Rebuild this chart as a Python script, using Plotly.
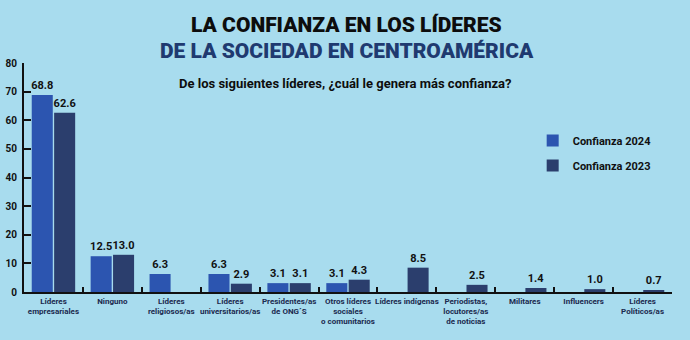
import plotly.graph_objects as go

categories = ["Líderes<br>empresariales", "Ninguno", "Líderes<br>religiosos/as",
              "Líderes<br>universitarios/as", "Presidentes/as<br>de ONG´S",
              "Otros líderes<br>sociales<br>o comunitarios", "Líderes indígenas",
              "Periodistas,<br>locutores/as<br>de noticias", "Militares", "Influencers",
              "Líderes<br>Políticos/as"]
v2024 = [68.8, 12.5, 6.3, 6.3, 3.1, 3.1, None, None, None, None, None]
v2023 = [62.6, 13.0, None, 2.9, 3.1, 4.3, 8.5, 2.5, 1.4, 1.0, 0.7]
series_names = ["Confianza 2024", "Confianza 2023"]
yticks = [0, 10, 20, 30, 40, 50, 60, 70, 80]

FONT = "Roboto, Liberation Sans, sans-serif"
BG = "#a8dcee"
C24 = "#2c55b0"
C23 = "#2b3e6d"


def f(size, color="#111111", weight="bold"):
    return dict(family=FONT, size=size, color=color, weight=weight)


fig = go.Figure()
for i, (name, vals, col) in enumerate([(series_names[0], v2024, C24),
                                        (series_names[1], v2023, C23)]):
    fig.add_trace(go.Bar(
        x=categories, y=vals, name=name, legendgroup=f"g{i}",
        marker=dict(color=col, line=dict(width=0)),
        texttemplate="%{y:.1f}", textposition="outside", cliponaxis=False,
        constraintext="none", textfont=f(11),
    ))

fig.update_layout(
    width=690, height=340,
    paper_bgcolor=BG, plot_bgcolor=BG,
    margin=dict(l=24, r=18, t=63, b=48, autoexpand=False),
    barmode="group", bargap=0.24, bargroupgap=0.06,
    showlegend=True,
    legend=dict(x=0.785, y=0.725, xanchor="left", yanchor="top",
                bgcolor="rgba(0,0,0,0)", traceorder="grouped", tracegroupgap=6,
                itemwidth=30, font=f(11)),
    xaxis=dict(type="category", showline=True, linecolor="#111111", linewidth=2,
               ticks="inside", tickson="boundaries", ticklen=5, tickwidth=1.5,
               tickcolor="#111111", showgrid=False, zeroline=False,
               tickangle=0, automargin=False,
               tickfont=f(8, "#1b2a4e")),
    yaxis=dict(range=[0, 80], tickvals=yticks, showline=True, linecolor="#111111",
               linewidth=2, ticks="inside", ticklen=7, tickwidth=1.5,
               tickcolor="#111111", showgrid=False, zeroline=False,
               automargin=False, ticklabelstandoff=3,
               tickfont=f(10)),
    annotations=[
        dict(text="LA CONFIANZA EN LOS LÍDERES", xref="paper", yref="paper",
             x=0.498, y=1.0, yshift=38, showarrow=False, xanchor="center", yanchor="middle",
             font=f(21, "#0d0d0d", 900)),
        dict(text="DE LA SOCIEDAD EN CENTROAMÉRICA", xref="paper", yref="paper",
             x=0.498, y=1.0, yshift=12, showarrow=False, xanchor="center", yanchor="middle",
             font=f(21, "#1f3a70", 900)),
        dict(text="De los siguientes líderes, ¿cuál le genera más confianza?", xref="paper",
             yref="paper", x=0.495, y=1.0, yshift=-20, showarrow=False, xanchor="center",
             yanchor="middle", font=f(13, "#0d0d0d")),
    ],
)

fig.write_html("out.html")
